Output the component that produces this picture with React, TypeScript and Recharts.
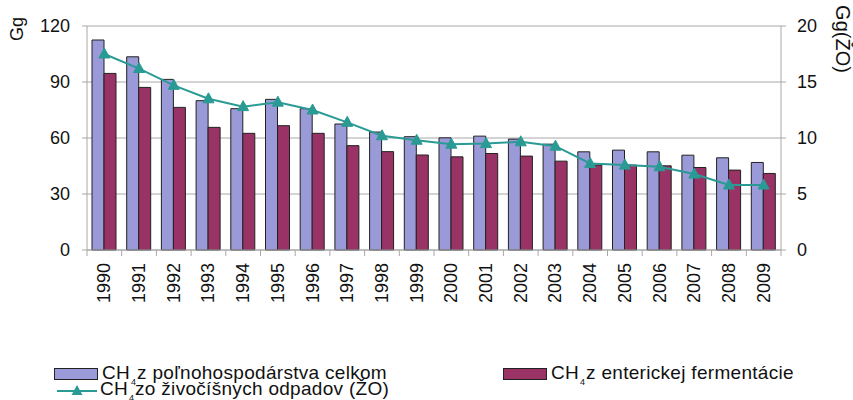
import React from "react";
import { ComposedChart, Bar, Line, XAxis, YAxis, CartesianGrid } from "recharts";

const years = ["1990","1991","1992","1993","1994","1995","1996","1997","1998","1999","2000","2001","2002","2003","2004","2005","2006","2007","2008","2009"];
const totalAgri = [112.5,103.5,91.4,80,75.7,80.7,75.7,67.5,63.2,60.7,60.1,61,59.4,56.7,52.6,53.5,52.6,50.8,49.4,46.9];
const enteric = [94.6,87.1,76.4,65.7,62.5,66.6,62.5,55.9,52.7,50.9,49.9,51.7,50.3,47.6,45.5,45.5,45.1,44.2,42.8,41];
const animalWaste = [17.5,16.2,14.7,13.5,12.8,13.2,12.5,11.4,10.2,9.8,9.45,9.5,9.66,9.27,7.73,7.58,7.43,6.78,5.8,5.8];
const leftTicks = [0,30,60,90,120];
const rightTicks = [0,5,10,15,20];

const data = years.map((y, i) => ({ year: y, total: totalAgri[i], enteric: enteric[i], waste: animalWaste[i] }));

const FONT = "'Liberation Sans', Arial, sans-serif";
const BLUE = "#9a9ad8";
const PLUM = "#993366";
const TEAL = "#2a9a94";
const GRID = "#a8a8a8";
const TICK_MARGIN = 13;

const XTick = (props: any) => {
  const { x, y, payload, index, visibleTicksCount } = props;
  const off = payload.offset || 0;
  const axisY = y - TICK_MARGIN;
  const left = payload.coordinate - off;
  const right = payload.coordinate + off;
  return (
    <g>
      <line x1={left} x2={left} y1={axisY} y2={axisY + 6} stroke={GRID} strokeWidth={1} />
      {index === visibleTicksCount - 1 ? (
        <line x1={right} x2={right} y1={axisY} y2={axisY + 6} stroke={GRID} strokeWidth={1} />
      ) : null}
      <text x={x} y={y} transform={`rotate(-90 ${x} ${y})`} textAnchor="end" dominantBaseline="central"
        fontFamily={FONT} fontSize={18} fill="#111">
        {payload.value}
      </text>
    </g>
  );
};

const Triangle = (props: any) => {
  const { cx, cy, index } = props;
  if (cx == null || cy == null) return <g key={index} />;
  return <path key={index} d={`M${cx},${cy - 6} L${cx + 5.5},${cy + 4} L${cx - 5.5},${cy + 4} Z`} fill={TEAL} stroke={TEAL} strokeWidth={1} />;
};

const Sub4 = () => <span style={{ fontSize: 9, position: "relative", top: 6, margin: "0 1px", letterSpacing: 0 }}>4</span>;

const legendText: React.CSSProperties = { fontFamily: FONT, fontSize: 19, color: "#111", lineHeight: "18px", whiteSpace: "nowrap", letterSpacing: "0.3px" };

export default function App() {
  return (
    <div style={{ position: "absolute", left: 0, top: 0, width: 853, height: 400, background: "#fff", overflow: "hidden" }}>
      <ComposedChart width={853} height={400} data={data} margin={{ top: 26, right: 0, bottom: 90, left: 0 }} barGap={0} barSize={12}>
        <CartesianGrid vertical={false} stroke={GRID} yAxisId="left" xAxisId="cat" />
        <XAxis xAxisId="cat" dataKey="year" height={60} axisLine={{ stroke: GRID }} tickLine={false} tickSize={0} tickMargin={TICK_MARGIN}
          tick={<XTick />} interval={0} />
        <YAxis yAxisId="left" width={87} domain={[0, 120]} ticks={leftTicks} axisLine={{ stroke: GRID }} tickLine={{ stroke: GRID }}
          tickSize={5} tickMargin={12} tick={{ fontFamily: FONT, fontSize: 18, fill: "#111" }}
          label={({ viewBox }: any) => (
            <text x={viewBox.x + 17} y={viewBox.y + 3} transform={`rotate(-90 ${viewBox.x + 17} ${viewBox.y + 3})`}
              textAnchor="middle" dominantBaseline="central" fontFamily={FONT} fontSize={18} fill="#111">Gg</text>
          )} />
        <YAxis yAxisId="right" orientation="right" width={72} domain={[0, 20]} ticks={rightTicks} axisLine={{ stroke: GRID }}
          tickLine={{ stroke: GRID }} tickSize={5} tickMargin={11} tick={{ fontFamily: FONT, fontSize: 18, fill: "#111" }}
          label={({ viewBox }: any) => (
            <text x={viewBox.x + 62} y={viewBox.y + 13} transform={`rotate(90 ${viewBox.x + 62} ${viewBox.y + 13})`}
              textAnchor="middle" dominantBaseline="central" fontFamily={FONT} fontSize={20} fill="#111">Gg(ŽO)</text>
          )} />
        <Bar xAxisId="cat" yAxisId="left" dataKey="total" fill={BLUE} stroke="#222" strokeWidth={1} isAnimationActive={false} />
        <Bar xAxisId="cat" yAxisId="left" dataKey="enteric" fill={PLUM} stroke="#222" strokeWidth={1} isAnimationActive={false} />
        <Line xAxisId="cat" yAxisId="right" dataKey="waste" stroke={TEAL} strokeWidth={2} dot={<Triangle />} activeDot={false} isAnimationActive={false} />
      </ComposedChart>
      <div style={{ position: "absolute", left: 54, top: 365, ...legendText }}>
        <div style={{ display: "flex", alignItems: "center", height: 18 }}>
          <span style={{ display: "inline-block", width: 42, height: 10, background: BLUE, border: "1px solid #222", marginRight: 4 }} />
          <span>CH<Sub4 />z poľnohospodárstva celkom</span>
        </div>
        <div style={{ display: "flex", alignItems: "center", height: 18, marginTop: -2 }}>
          <svg width={46} height={14} style={{ marginRight: 0 }}>
            <line x1={3} y1={8} x2={43} y2={8} stroke={TEAL} strokeWidth={2} />
            <path d="M23,2 L28.5,12 L17.5,12 Z" fill={TEAL} />
          </svg>
          <span>CH<Sub4 />zo živočíšnych odpadov (ŽO)</span>
        </div>
      </div>
      <div style={{ position: "absolute", left: 503, top: 365, ...legendText }}>
        <div style={{ display: "flex", alignItems: "center", height: 18 }}>
          <span style={{ display: "inline-block", width: 42, height: 10, background: PLUM, border: "1px solid #222", marginRight: 4 }} />
          <span>CH<Sub4 />z enterickej fermentácie</span>
        </div>
      </div>
    </div>
  );
}
